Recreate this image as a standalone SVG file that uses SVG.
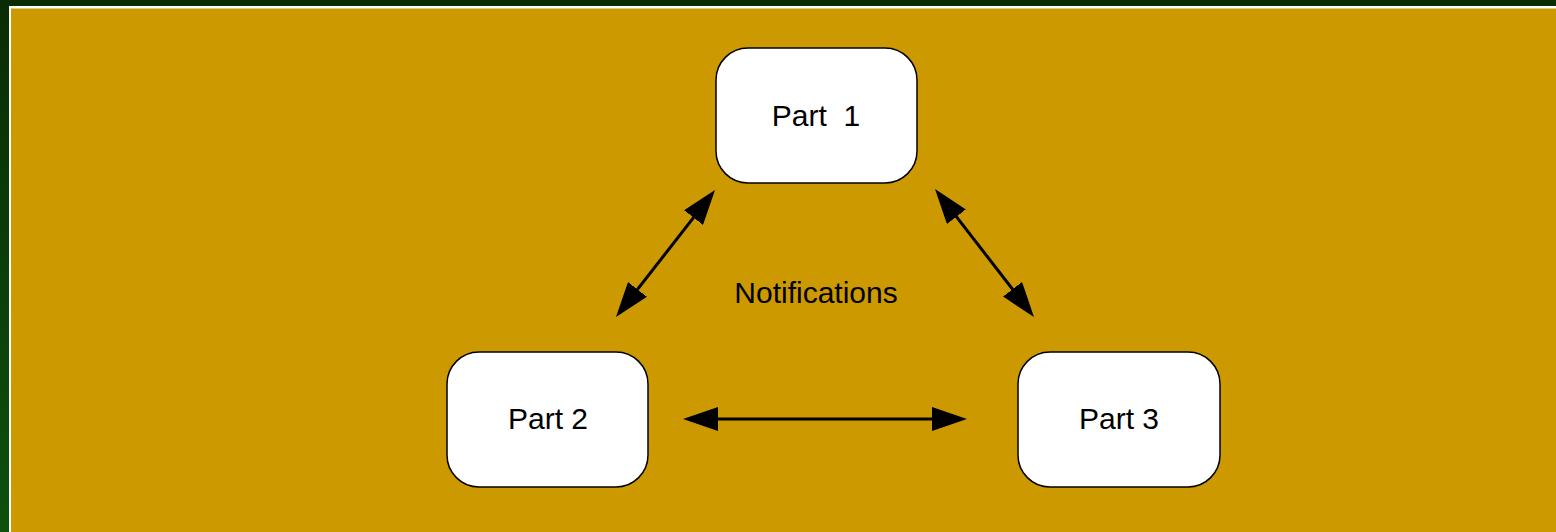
<svg xmlns="http://www.w3.org/2000/svg" width="1556" height="532" viewBox="0 0 1556 532">
  <defs>
    <linearGradient id="bg" x1="0" y1="0" x2="0" y2="1">
      <stop offset="0" stop-color="#0a2c05"/>
      <stop offset="1" stop-color="#0e500e"/>
    </linearGradient>
    <marker id="ah" viewBox="0 0 35 24" refX="20" refY="12" markerWidth="35" markerHeight="24" markerUnits="userSpaceOnUse" orient="auto-start-reverse">
      <path d="M0,0 L35,12 L0,24 Z" fill="#000"/>
    </marker>
    <style>
      .box { fill: #ffffff; stroke: #000000; stroke-width: 1.5; }
      .lbl { font-family: "Liberation Sans", Arial, sans-serif; font-size: 30px; fill: #000; text-anchor: middle; dominant-baseline: central; }
      .conn { stroke: #000; stroke-width: 3; fill: none; marker-start: url(#ah); marker-end: url(#ah); }
    </style>
  </defs>
  <rect x="0" y="0" width="1556" height="532" fill="url(#bg)"/>
  <rect x="9" y="6" width="1547" height="526" fill="#ffffff"/>
  <rect x="11" y="8.5" width="1545" height="523.5" fill="#cc9900"/>

  <g id="connectors">
    <line class="conn" x1="625.2" y1="305.2" x2="705.8" y2="201.8"/>
    <line class="conn" x1="944.2" y1="200.9" x2="1024.8" y2="305.1"/>
    <line class="conn" x1="698" y1="419" x2="952" y2="419"/>
  </g>

  <g id="part1">
    <rect class="box" x="716" y="48" width="201" height="135" rx="32" ry="32"/>
    <text class="lbl" x="816" y="115" xml:space="preserve">Part  1</text>
  </g>
  <g id="part2">
    <rect class="box" x="447" y="352" width="201" height="135" rx="32" ry="32"/>
    <text class="lbl" x="548" y="418">Part 2</text>
  </g>
  <g id="part3">
    <rect class="box" x="1018" y="352" width="202" height="135" rx="32" ry="32"/>
    <text class="lbl" x="1119" y="418">Part 3</text>
  </g>
  <g id="notifications">
    <text class="lbl" x="816" y="292">Notifications</text>
  </g>
</svg>
